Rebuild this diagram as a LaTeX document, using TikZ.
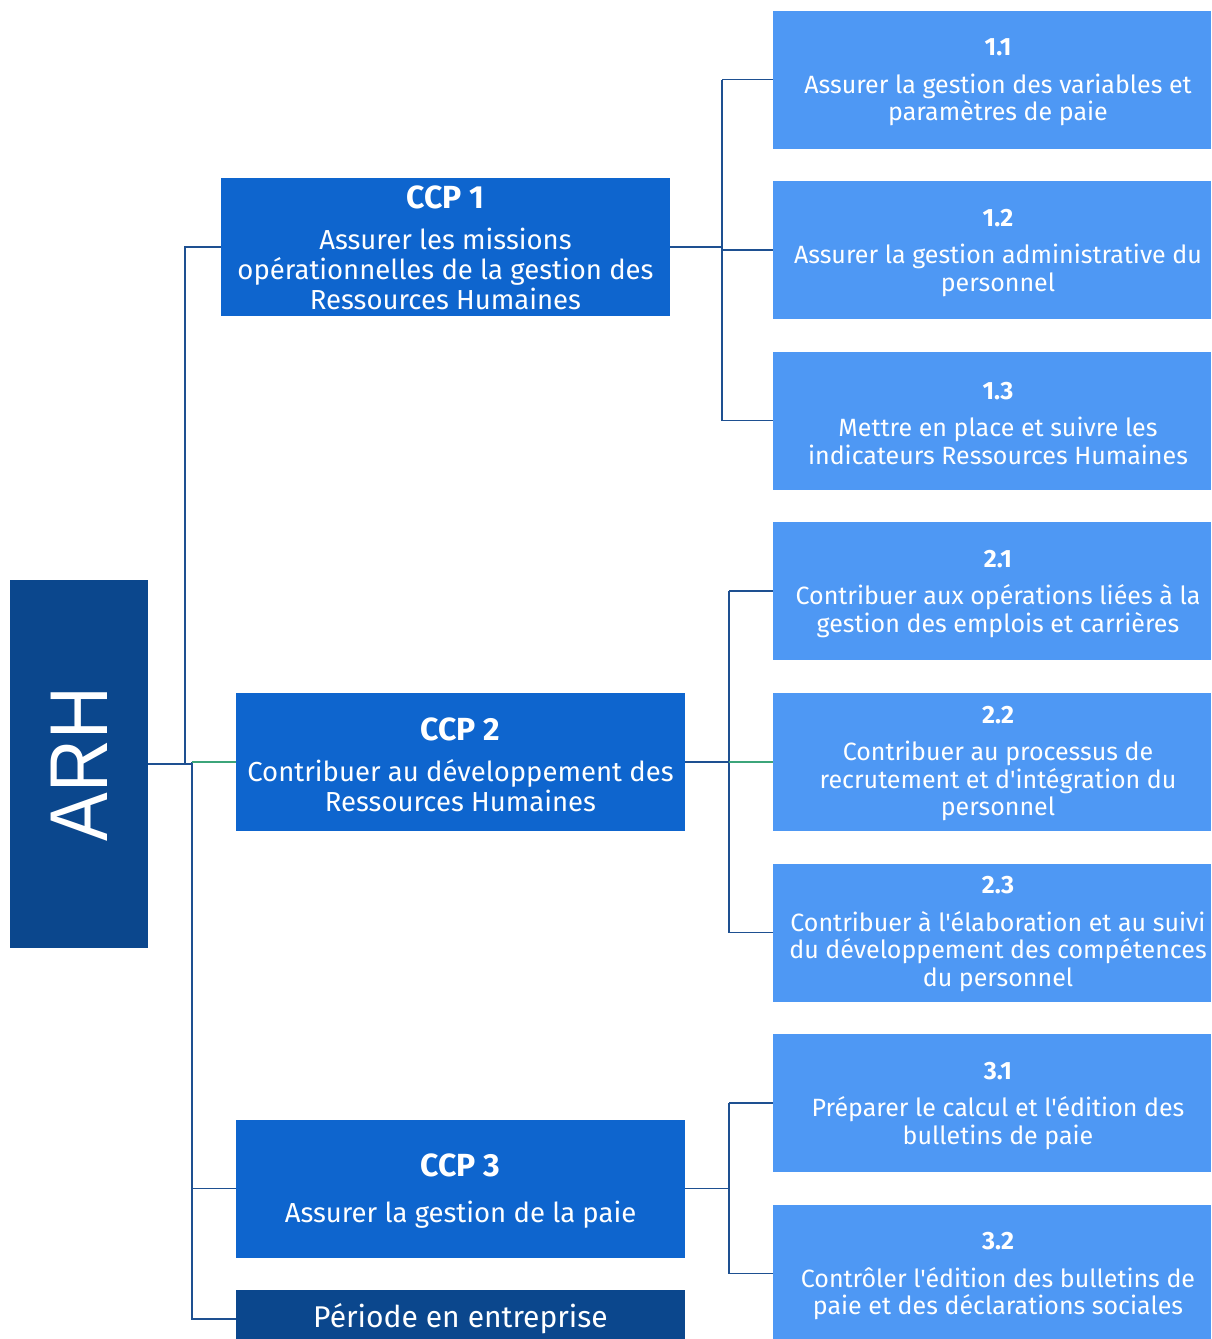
\documentclass[tikz,border=0pt]{standalone}
\usepackage{fontspec}
\newfontfamily\mainf{Fira Sans}
\newfontfamily\arhfont{Liberation Sans}
\definecolor{darkb}{RGB}{11,71,141}
\definecolor{midb}{RGB}{14,101,206}
\definecolor{lightb}{RGB}{78,152,244}
\definecolor{lineb}{RGB}{30,80,145}
\definecolor{lineg}{RGB}{60,165,122}
\tikzset{
  box/.style={draw=none, text=white, align=center, inner sep=0pt},
  rbox/.style={box, fill=lightb, minimum width=438pt, minimum height=138pt},
  cbox/.style={box, fill=midb, minimum width=449pt, minimum height=138pt},
  rtxt/.style={text=white, align=center, inner sep=0pt, font=\mainf\fontsize{25}{27.5}\selectfont},
  ctxt/.style={text=white, align=center, inner sep=0pt, font=\mainf\fontsize{27.5}{30}\selectfont},
  conn/.style={draw=lineb, line width=1.4pt},
  conng/.style={draw=lineg, line width=1.4pt},
}
\newcommand{\rhead}[1]{{\fontsize{25}{27}\selectfont\bfseries #1}\\[10pt]}
\newcommand{\chead}[2][11pt]{{\fontsize{32}{32}\selectfont\bfseries #2}\\[#1]}
\begin{document}
\begin{tikzpicture}[x=1pt,y=-1pt]
\useasboundingbox (0,0) rectangle (1211,1339);
\clip (0,0) rectangle (1211,1339);
\fill[white] (0,0) rectangle (1211,1339);
% root
\node[box, fill=darkb, minimum width=138pt, minimum height=368pt] (arh) at (79,764) {};
\node[text=white, rotate=90, inner sep=0pt, font=\arhfont\fontsize{82}{82}\selectfont] (arht) at (arh.center) {\scalebox{0.89}[1]{ARH}};
% CCP boxes
\node[cbox] (ccp1) at (445.5,247) {};
\node[ctxt] (ccp1t) at ([yshift=-1]ccp1.center) {\chead{CCP 1}Assurer les missions\\opérationnelles de la gestion des\\Ressources Humaines};
\node[cbox] (ccp2) at (460.5,762) {};
\node[ctxt] (ccp2t) at ([yshift=-3]ccp2.center) {\chead{CCP 2}Contribuer au développement des\\Ressources Humaines};
\node[cbox] (ccp3) at (460.5,1188.5) {};
\node[ctxt] (ccp3t) at ([yshift=-3]ccp3.center) {\chead[16pt]{CCP 3}Assurer la gestion de la paie};
\node[box, fill=darkb, minimum width=449pt, minimum height=58pt] (per) at (460.5,1319) {};
\node[text=white, inner sep=0pt, font=\mainf\fontsize{30}{32}\selectfont] (pert) at (460.5,1319) {Période en entreprise};
% right boxes
\node[rbox] (b11) at (992,79.5) {};
\node[rtxt] (b11t) at (998,82.5) {\rhead{1.1}Assurer la gestion des variables et\\paramètres de paie};
\node[rbox] (b12) at (992,250) {};
\node[rtxt] (b12t) at (998,253) {\rhead{1.2}Assurer la gestion administrative du\\personnel};
\node[rbox] (b13) at (992,420.5) {};
\node[rtxt] (b13t) at (998,423.5) {\rhead{1.3}Mettre en place et suivre les\\indicateurs Ressources Humaines};
\node[rbox] (b21) at (992,591) {};
\node[rtxt] (b21t) at (998,594) {\rhead{2.1}Contribuer aux opérations liées à la\\gestion des emplois et carrières};
\node[rbox] (b22) at (992,762) {};
\node[rtxt] (b22t) at (998,763.5) {\rhead{2.2}Contribuer au processus de\\recrutement et d'intégration du\\personnel};
\node[rbox] (b23) at (992,932.5) {};
\node[rtxt] (b23t) at (998,934) {\rhead{2.3}Contribuer à l'élaboration et au suivi\\du développement des compétences\\du personnel};
\node[rbox] (b31) at (992,1103) {};
\node[rtxt] (b31t) at (998,1106) {\rhead{3.1}Préparer le calcul et l'édition des\\bulletins de paie};
\node[rbox] (b32) at (992,1273.5) {};
\node[rtxt] (b32t) at (998,1276.5) {\rhead{3.2}Contrôler l'édition des bulletins de\\paie et des déclarations sociales};
% left connectors
\coordinate (j1) at (185,764);
\coordinate (j2) at (192,762);
\draw[conn] (arh.east) -- (j2 |- arh.east);
\draw[conn] (j1) |- (ccp1.west);
\draw[conn] (j2) |- (per.west);
\draw[conn] (j2 |- ccp3.west) -- (ccp3.west);
\draw[conng] (j2) -- (ccp2.west);
% CCP1 connectors
\coordinate (k1) at (722,247);
\draw[conn] (ccp1.east) -- (k1);
\draw[conn] (k1 |- b11.west) -- (k1 |- b13.west);
\draw[conn] (k1 |- b11.west) -- (b11.west);
\draw[conn] (k1 |- b12.west) -- (b12.west);
\draw[conn] (k1 |- b13.west) -- (b13.west);
% CCP2 connectors
\coordinate (k2) at (729,762);
\draw[conn] (ccp2.east) -- (k2);
\draw[conn] (k2 |- b21.west) -- (k2 |- b23.west);
\draw[conn] (k2 |- b21.west) -- (b21.west);
\draw[conng] (k2 |- b22.west) -- (b22.west);
\draw[conn] (k2 |- b23.west) -- (b23.west);
% CCP3 connectors
\coordinate (k3) at (729,1188.5);
\draw[conn] (ccp3.east) -- (k3);
\draw[conn] (k3 |- b31.west) -- (k3 |- b32.west);
\draw[conn] (k3 |- b31.west) -- (b31.west);
\draw[conn] (k3 |- b32.west) -- (b32.west);
\end{tikzpicture}
\end{document}
